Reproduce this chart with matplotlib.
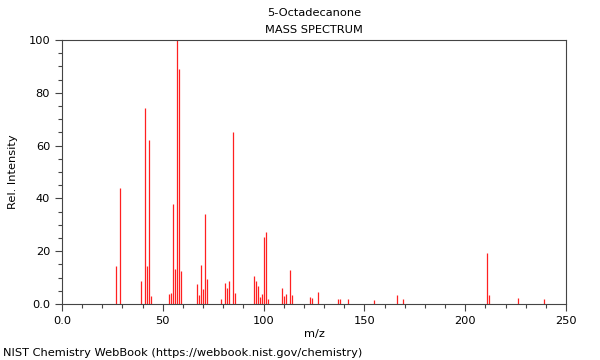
import matplotlib
matplotlib.use("Agg")
import matplotlib.pyplot as plt
from matplotlib.ticker import MultipleLocator, FixedFormatter, FixedLocator

# peaks
mz = [27, 29, 39, 41, 42, 43, 44, 53, 54, 55, 56, 57, 58, 59,
      67, 68, 69, 70, 71, 72, 79, 81, 82, 83, 85, 86,
      95, 96, 97, 98, 99, 100, 101, 102, 109, 110, 111, 113, 114,
      123, 124, 127, 137, 138, 142, 155, 166, 169, 211, 212, 226, 239]
intensity = [14.4, 44.0, 8.8, 74.3, 14.4, 62.2, 3.1, 3.8, 4.3, 38.0, 13.4, 100.0, 89.0, 12.5,
             7.6, 3.4, 14.8, 5.6, 34.0, 9.5, 1.9, 7.8, 5.9, 8.8, 65.2, 4.0,
             10.7, 8.6, 6.8, 2.8, 3.7, 25.4, 27.2, 1.8, 6.2, 3.0, 3.8, 12.9, 3.4,
             2.8, 2.3, 4.7, 1.8, 1.8, 1.9, 1.5, 3.3, 1.9, 19.4, 3.4, 2.3, 1.9]

x_ticks = [0, 50, 100, 150, 200, 250]
x_labels = ["0.0", "50", "100", "150", "200", "250"]
y_ticks = [0, 20, 40, 60, 80, 100]
y_labels = ["0.0", "20", "40", "60", "80", "100"]

fig = plt.figure(figsize=(6, 3.6), dpi=100)
ax = fig.add_axes([62 / 600, 1 - 304 / 360, 504 / 600, 264 / 360])

ax.vlines(mz, 0, intensity, colors="#ff2020", linewidth=0.9)

ax.set_xlim(0, 250)
ax.set_ylim(0, 100)
ax.xaxis.set_major_locator(FixedLocator(x_ticks))
ax.xaxis.set_major_formatter(FixedFormatter(x_labels))
ax.xaxis.set_minor_locator(MultipleLocator(10))
ax.yaxis.set_major_locator(FixedLocator(y_ticks))
ax.yaxis.set_major_formatter(FixedFormatter(y_labels))
ax.yaxis.set_minor_locator(MultipleLocator(5))
ax.tick_params(which="both", labelsize=8.2, color="#444444", width=0.8)
ax.tick_params(which="major", length=5)
ax.tick_params(which="minor", length=3)
for s in ax.spines.values():
    s.set_color("#444444")
    s.set_linewidth(0.8)

ax.set_xlabel("m/z", fontsize=8.2, labelpad=2)
ax.set_ylabel("Rel. Intensity", fontsize=8.2, labelpad=7.5)
fig.text(0.523, 1 - 13 / 360, "5-Octadecanone", ha="center", va="center", fontsize=8.2)
fig.text(0.523, 1 - 30 / 360, "MASS SPECTRUM", ha="center", va="center", fontsize=8.2)
fig.text(3 / 600, 1 - 353 / 360, "NIST Chemistry WebBook (https://webbook.nist.gov/chemistry)",
         ha="left", va="center", fontsize=8.2)

fig.savefig("out.png", dpi=100)
